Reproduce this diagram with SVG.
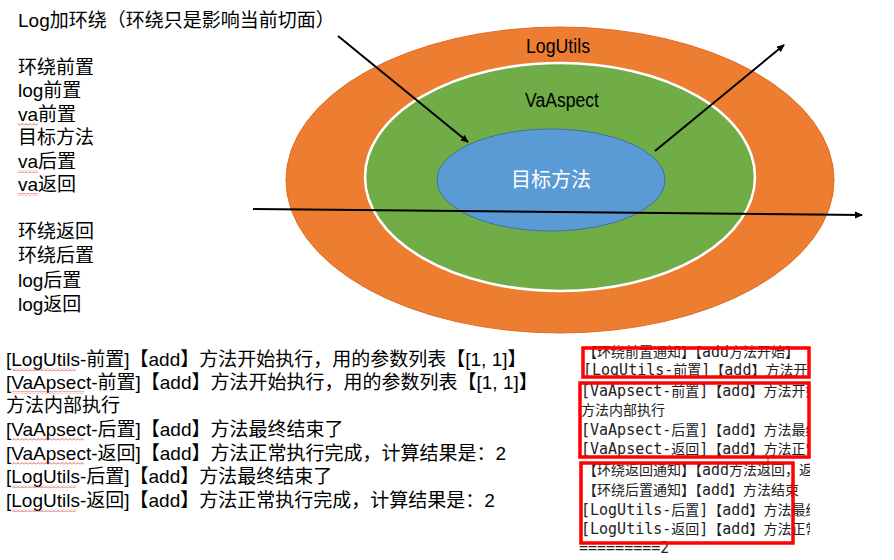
<svg xmlns="http://www.w3.org/2000/svg" width="894" height="560" viewBox="0 0 894 560">
<style>
.t{font-family:"Liberation Sans","Noto Sans CJK SC",sans-serif;font-size:19px;fill:#000}
.lbl{font-family:"Liberation Sans","Noto Sans CJK SC",sans-serif;font-size:20px;text-anchor:middle}
.con{font-family:"DejaVu Sans Mono","Noto Sans CJK SC",monospace;font-size:15px;fill:#222}
.cj{font-size:14px}
.box{fill:none;stroke:#ff0000;stroke-width:3.5}
.arr{stroke:#000;stroke-width:2;fill:none;marker-end:url(#ah)}
</style>
<defs>
<marker id="ah" markerWidth="8" markerHeight="8" refX="7" refY="4" orient="auto" markerUnits="userSpaceOnUse">
<path d="M0,0.5 L8,4 L0,7.5 z" fill="#000"/>
</marker>
<pattern id="sq" width="4" height="3" patternUnits="userSpaceOnUse">
<path d="M0,2.5 L2,0.5 L4,2.5" stroke="#e03030" stroke-width="0.8" fill="none"/>
</pattern>
<clipPath id="cc"><rect x="578" y="345" width="232" height="215"/></clipPath>
</defs>
<rect width="894" height="560" fill="#fff"/>

<g id="logutils">
<ellipse cx="560" cy="180" rx="274" ry="153" fill="#ED7D31" stroke="#DC6E25" stroke-width="1"/>
<text class="lbl" x="558" y="53" fill="#000" textLength="64" lengthAdjust="spacingAndGlyphs">LogUtils</text>
</g>
<g id="vaaspect">
<ellipse cx="560" cy="177" rx="195" ry="114" fill="#70AD47" stroke="#fff" stroke-width="2.5"/>
<text class="lbl" x="562" y="107" fill="#000" textLength="74" lengthAdjust="spacingAndGlyphs">VaAspect</text>
</g>
<g id="target">
<ellipse cx="551" cy="180" rx="114" ry="51" fill="#5B9BD5" stroke="#41719C" stroke-width="1"/>
<text class="lbl" x="551" y="187" fill="#fff">目标方法</text>
</g>

<g id="connectors">
<line class="arr" x1="338" y1="36" x2="468" y2="142"/>
<line class="arr" x1="655" y1="151" x2="784" y2="45"/>
<line class="arr" x1="253" y1="209" x2="862" y2="215"/>
</g>

<g id="left-notes">
<text class="t" x="18" y="27">Log加环绕（环绕只是影响当前切面）</text>
<text class="t" x="18" y="74">环绕前置</text>
<text class="t" x="18" y="97">log前置</text>
<text class="t" x="18" y="121">va前置</text>
<text class="t" x="18" y="144">目标方法</text>
<text class="t" x="18" y="168">va后置</text>
<text class="t" x="18" y="191">va返回</text>
<text class="t" x="18" y="238">环绕返回</text>
<text class="t" x="18" y="262">环绕后置</text>
<text class="t" x="18" y="287">log后置</text>
<text class="t" x="18" y="311">log返回</text>
<rect x="18" y="123" width="20" height="3" fill="url(#sq)"/>
<rect x="18" y="170" width="20" height="3" fill="url(#sq)"/>
<rect x="18" y="193" width="20" height="3" fill="url(#sq)"/>
</g>

<g id="log-output">
<text class="t" x="6" y="366">[LogUtils-前置]【add】方法开始执行，用的参数列表【[1, 1]】</text>
<text class="t" x="6" y="389">[VaApsect-前置]【add】方法开始执行，用的参数列表【[1, 1]】</text>
<text class="t" x="6" y="412">方法内部执行</text>
<text class="t" x="6" y="436">[VaApsect-后置]【add】方法最终结束了</text>
<text class="t" x="6" y="460">[VaApsect-返回]【add】方法正常执行完成，计算结果是：2</text>
<text class="t" x="6" y="483">[LogUtils-后置]【add】方法最终结束了</text>
<text class="t" x="6" y="507">[LogUtils-返回]【add】方法正常执行完成，计算结果是：2</text>
<rect x="12" y="368" width="64" height="3" fill="url(#sq)"/>
<rect x="12" y="391" width="72" height="3" fill="url(#sq)"/>
<rect x="12" y="438" width="72" height="3" fill="url(#sq)"/>
<rect x="12" y="462" width="72" height="3" fill="url(#sq)"/>
<rect x="12" y="485" width="64" height="3" fill="url(#sq)"/>
<rect x="12" y="509" width="64" height="3" fill="url(#sq)"/>
</g>

<g id="console">
<g clip-path="url(#cc)">
<text class="con" x="583" y="357"><tspan class="cj">【环绕前置通知】【</tspan>add<tspan class="cj">方法开始】</tspan></text>
<text class="con" x="583" y="375">[LogUtils-<tspan class="cj">前置</tspan>]<tspan class="cj">【</tspan>add<tspan class="cj">】方法开始</tspan></text>
<text class="con" x="581" y="396">[VaApsect-<tspan class="cj">前置</tspan>]<tspan class="cj">【</tspan>add<tspan class="cj">】方法开始</tspan></text>
<text class="con" x="581" y="415"><tspan class="cj">方法内部执行</tspan></text>
<text class="con" x="581" y="435">[VaApsect-<tspan class="cj">后置</tspan>]<tspan class="cj">【</tspan>add<tspan class="cj">】方法最终</tspan></text>
<text class="con" x="581" y="454">[VaApsect-<tspan class="cj">返回</tspan>]<tspan class="cj">【</tspan>add<tspan class="cj">】方法正常</tspan></text>
<text class="con" x="583" y="475"><tspan class="cj">【环绕返回通知】【</tspan>add<tspan class="cj">方法返回，返回</tspan></text>
<text class="con" x="583" y="495"><tspan class="cj">【环绕后置通知】【</tspan>add<tspan class="cj">】方法结束</tspan></text>
<text class="con" x="581" y="515">[LogUtils-<tspan class="cj">后置</tspan>]<tspan class="cj">【</tspan>add<tspan class="cj">】方法最终</tspan></text>
<text class="con" x="581" y="534">[LogUtils-<tspan class="cj">返回</tspan>]<tspan class="cj">【</tspan>add<tspan class="cj">】方法正常</tspan></text>
<text class="con" x="579" y="553">=========2</text>
</g>
<line x1="768" y1="457" x2="768" y2="476" stroke="#555" stroke-width="1"/>
<rect class="box" x="583" y="348" width="226" height="29"/>
<rect class="box" x="580" y="383" width="229" height="74"/>
<rect class="box" x="581" y="463" width="212" height="80"/>
</g>
</svg>
